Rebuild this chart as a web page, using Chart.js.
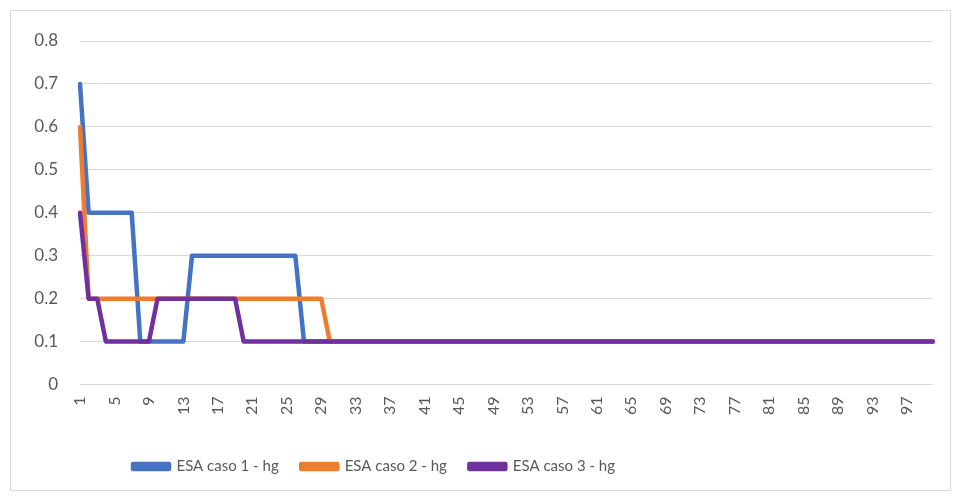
<!DOCTYPE html>
<html><head><meta charset="utf-8">
<script src="https://cdn.jsdelivr.net/npm/chart.js@4"></script>
<style>
html,body{margin:0;padding:0;background:#fff;}
#box{position:absolute;left:10px;top:10px;width:941px;height:481px;border:1px solid #d9d9d9;box-sizing:border-box;}
#wrap{position:absolute;left:0;top:0;width:956px;height:496px;}
</style></head><body>
<div id="box"></div>
<div id="wrap"><canvas id="c" width="956" height="496"></canvas></div>
<script>
const categories = Array.from({length:100},(_,i)=>String(i+1));
const seriesNames = ["ESA caso 1 - hg","ESA caso 2 - hg","ESA caso 3 - hg"];
// values (points 1..100)
const caso1 = [0.7,0.4,0.4,0.4,0.4,0.4,0.4,0.1,0.1,0.1,0.1,0.1,0.1,0.3,0.3,0.3,0.3,0.3,0.3,0.3,0.3,0.3,0.3,0.3,0.3,0.3,
  0.1,0.1,0.1,0.1,0.1,0.1,0.1,0.1,0.1,0.1,0.1,0.1,0.1,0.1,0.1,0.1,0.1,0.1,0.1,0.1,0.1,0.1,0.1,0.1,
  0.1,0.1,0.1,0.1,0.1,0.1,0.1,0.1,0.1,0.1,0.1,0.1,0.1,0.1,0.1,0.1,0.1,0.1,0.1,0.1,0.1,0.1,0.1,0.1,0.1,
  0.1,0.1,0.1,0.1,0.1,0.1,0.1,0.1,0.1,0.1,0.1,0.1,0.1,0.1,0.1,0.1,0.1,0.1,0.1,0.1,0.1,0.1,0.1,0.1,0.1];
const caso2 = [0.6,0.2,0.2,0.2,0.2,0.2,0.2,0.2,0.2,0.2,0.2,0.2,0.2,0.2,0.2,0.2,0.2,0.2,0.2,0.2,0.2,0.2,0.2,0.2,0.2,0.2,0.2,0.2,0.2,
  0.1,0.1,0.1,0.1,0.1,0.1,0.1,0.1,0.1,0.1,0.1,0.1,0.1,0.1,0.1,0.1,0.1,0.1,0.1,0.1,0.1,
  0.1,0.1,0.1,0.1,0.1,0.1,0.1,0.1,0.1,0.1,0.1,0.1,0.1,0.1,0.1,0.1,0.1,0.1,0.1,0.1,0.1,0.1,0.1,0.1,0.1,
  0.1,0.1,0.1,0.1,0.1,0.1,0.1,0.1,0.1,0.1,0.1,0.1,0.1,0.1,0.1,0.1,0.1,0.1,0.1,0.1,0.1,0.1,0.1,0.1,0.1];
const caso3 = [0.4,0.2,0.2,0.1,0.1,0.1,0.1,0.1,0.1,0.2,0.2,0.2,0.2,0.2,0.2,0.2,0.2,0.2,0.2,
  0.1,0.1,0.1,0.1,0.1,0.1,0.1,0.1,0.1,0.1,0.1,0.1,0.1,0.1,0.1,0.1,0.1,0.1,0.1,0.1,0.1,0.1,0.1,0.1,0.1,0.1,0.1,0.1,0.1,0.1,0.1,
  0.1,0.1,0.1,0.1,0.1,0.1,0.1,0.1,0.1,0.1,0.1,0.1,0.1,0.1,0.1,0.1,0.1,0.1,0.1,0.1,0.1,0.1,0.1,0.1,0.1,
  0.1,0.1,0.1,0.1,0.1,0.1,0.1,0.1,0.1,0.1,0.1,0.1,0.1,0.1,0.1,0.1,0.1,0.1,0.1,0.1,0.1,0.1,0.1,0.1,0.1];
const yTicks = [0,0.1,0.2,0.3,0.4,0.5,0.6,0.7,0.8];
const colors = ["#4472C4","#ED7D31","#7030A0"];
const values = [caso1,caso2,caso3];

const FONT = "Lato, 'Liberation Sans', sans-serif";
const legendShift = {
  id:'legendShift',
  afterLayout(chart){ const l = chart.legend; if(l){ l.left = 110.5; } }
};
new Chart(document.getElementById('c'), {
  type:'line',
  data:{
    labels:categories,
    datasets: values.map((v,i)=>({
      label:seriesNames[i], data:v, borderColor:colors[i], backgroundColor:colors[i],
      borderWidth:4.5, pointRadius:0, tension:0, fill:false, order:2-i,
      borderCapStyle:'round', borderJoinStyle:'round'
    }))
  },
  plugins:[legendShift],
  options:{
    responsive:false, animation:false,
    layout:{padding:{left:0,right:20,top:41,bottom:12}},
    plugins:{
      tooltip:{enabled:false},
      legend:{position:'bottom', align:'start',
        labels:{color:'#595959', font:{family:FONT,size:15}, boxWidth:36, boxHeight:5, padding:22.5,
          sort:(a,b)=>a.datasetIndex-b.datasetIndex}}
    },
    scales:{
      x:{
        grid:{display:false}, border:{display:false},
        ticks:{autoSkip:false, minRotation:90, maxRotation:90, color:'#595959', font:{family:FONT,size:16}, padding:4,
          callback:function(v,i){return i%4===0?categories[i]:'';}},
        afterFit:function(s){s.height=52;}
      },
      y:{
        min:0,max:0.8,
        afterBuildTicks:function(s){s.ticks=yTicks.map(v=>({value:v}));},
        grid:{color:'#d9d9d9', lineWidth:1, drawTicks:false}, border:{display:false},
        ticks:{color:'#595959', font:{family:FONT,size:17}, padding:22, callback:v=>String(v)},
        afterFit:function(s){s.width=80;}
      }
    }
  }
});
</script>
</body></html>
